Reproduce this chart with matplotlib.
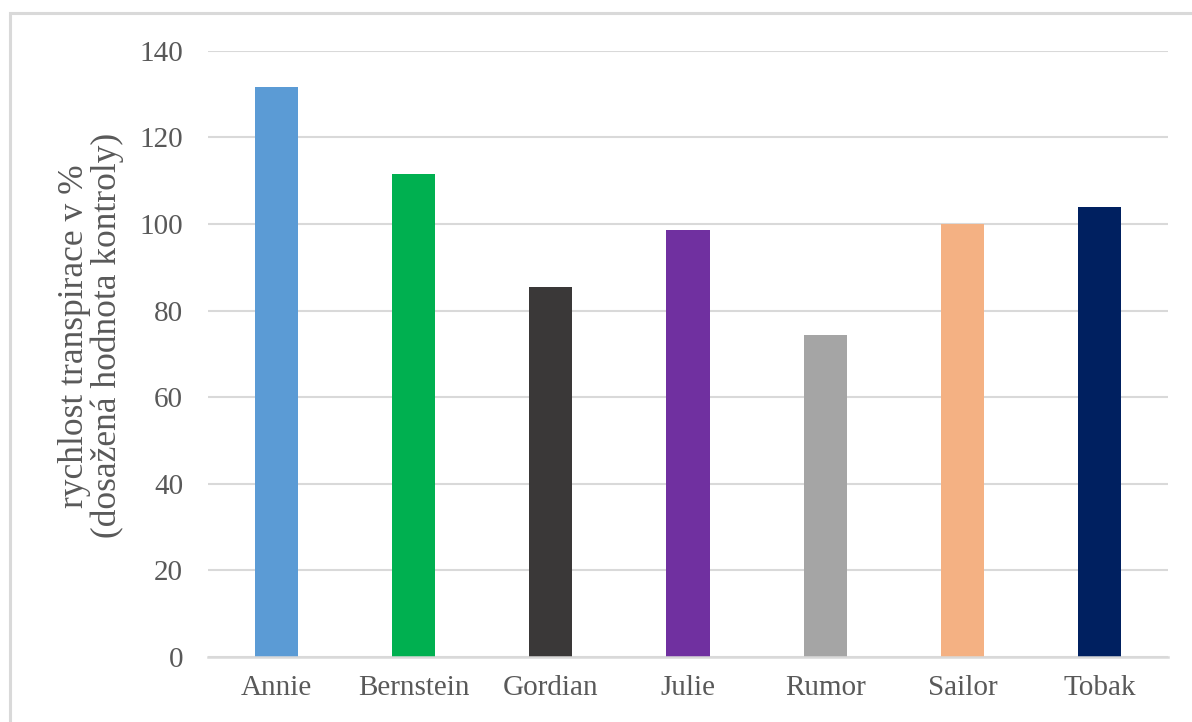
import matplotlib.pyplot as plt
from matplotlib.patches import Rectangle

# Transpiration rate per variety, % of control
varieties = ['Annie', 'Bernstein', 'Gordian', 'Julie', 'Rumor', 'Sailor', 'Tobak']
rate_pct = [131.7, 111.5, 85.4, 98.7, 74.3, 100.0, 103.8]
bar_colors = ['#5B9BD5', '#00B050', '#3A3838', '#7030A0', '#A5A5A5', '#F4B183', '#002060']
y_ticks = [0, 20, 40, 60, 80, 100, 120, 140]

plt.rcParams['font.family'] = ['Liberation Serif', 'DejaVu Serif']
text_color = '#595959'
grid_color = '#D9D9D9'

fig = plt.figure(figsize=(11.92, 7.22), dpi=100)
ax = fig.add_axes([0.1745, 0.0900, 0.8054, 0.8398])

ax.bar(varieties, rate_pct, width=0.315, color=bar_colors, zorder=3)

ax.set_ylim(0, 140)
ax.set_xlim(-0.5, len(varieties) - 0.5)
ax.set_yticks(y_ticks)
ax.yaxis.grid(True, color=grid_color, linewidth=1.5, zorder=0)

for side in ['top', 'right', 'left']:
    ax.spines[side].set_visible(False)
ax.spines['bottom'].set_color(grid_color)
ax.spines['bottom'].set_linewidth(1.8)
ax.spines['bottom'].set_zorder(4)

ax.tick_params(axis='both', length=0, labelsize=21, labelcolor=text_color)
ax.tick_params(axis='y', pad=18)
ax.tick_params(axis='x', pad=13)

fig.text(0.0765, 0.535, 'rychlost transpirace v %\n(dosažená hodnota kontroly)',
         rotation=90, ha='center', va='center', fontsize=25.5, color=text_color,
         linespacing=1.0)

# light frame around the chart area
fig.patches.append(Rectangle((10 / 1192, -0.1), 1.2, 1 - 13 / 722 + 0.1,
                             transform=fig.transFigure, fill=False,
                             edgecolor=grid_color, linewidth=2.2))

fig.savefig('out.png', dpi=100)
